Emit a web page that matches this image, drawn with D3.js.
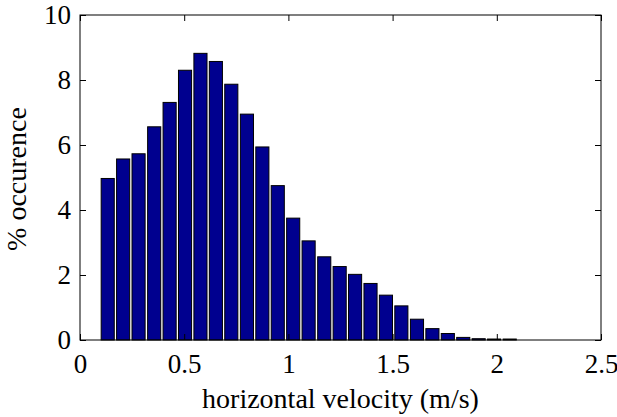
<!DOCTYPE html>
<html>
<head>
<meta charset="utf-8">
<script src="https://cdn.jsdelivr.net/npm/d3@7"></script>
<style>
  body { margin: 0; background: #fff; }
</style>
</head>
<body>
<div id="chart"></div>
<script>
// Histogram bin centres (m/s) and percentage of occurrence
const binCenters = [0.133, 0.207, 0.281, 0.356, 0.430, 0.504, 0.578, 0.652, 0.726, 0.801,
  0.875, 0.949, 1.023, 1.097, 1.172, 1.246, 1.320, 1.394, 1.468, 1.542,
  1.617, 1.691, 1.765, 1.839, 1.913, 1.987, 2.062];
const occurrence = [4.97, 5.57, 5.73, 6.56, 7.31, 8.30, 8.82, 8.57, 7.87, 6.95,
  5.94, 4.75, 3.75, 3.05, 2.56, 2.26, 2.02, 1.74, 1.38, 1.05,
  0.64, 0.35, 0.20, 0.08, 0.04, 0.03, 0.03];
const xTicks = [0, 0.5, 1, 1.5, 2, 2.5];
const yTicks = [0, 2, 4, 6, 8, 10];

const FONT = 'Liberation Serif';

//Chart dimensions
const W = 617, H = 417;
const margin = { top: 15, right: 16, bot: 77, left: 80 };
const width = W - margin.left - margin.right;
const height = H - margin.top - margin.bot;

// Scales
const xScale = d3.scaleLinear().domain([0, 2.5]).range([0, width]);
const yScale = d3.scaleLinear().domain([0, 10]).range([height, 0]);
const barW = (xScale(binCenters[1]) - xScale(binCenters[0])) * 0.85;

const svg = d3.select('#chart').append('svg')
  .attr('width', W)
  .attr('height', H)
  .attr('font-family', FONT);

const g = svg.append('g')
  .attr('transform', `translate(${margin.left}, ${margin.top})`);

// Bars
g.selectAll('rect.bar')
  .data(binCenters)
  .enter().append('rect')
  .attr('class', 'bar')
  .attr('x', d => xScale(d) - barW / 2)
  .attr('width', barW)
  .attr('y', (d, i) => yScale(occurrence[i]))
  .attr('height', (d, i) => height - yScale(occurrence[i]))
  .attr('fill', '#00008F')
  .attr('stroke', '#000')
  .attr('stroke-width', 1);

// Axes (MATLAB style, ticks inward on all sides)
const tickLen = 6;
const xAxis = d3.axisBottom(xScale).tickValues(xTicks).tickSize(-tickLen).tickPadding(14)
  .tickFormat(d3.format('~g'));
const yAxis = d3.axisLeft(yScale).tickValues(yTicks).tickSize(-tickLen).tickPadding(9);
const xAxisTop = d3.axisTop(xScale).tickValues(xTicks).tickSize(-tickLen).tickFormat('');
const yAxisRight = d3.axisRight(yScale).tickValues(yTicks).tickSize(-tickLen).tickFormat('');

const styleAxis = sel => {
  sel.attr('font-family', FONT).attr('font-size', 27);
  sel.select('.domain').remove();
  sel.selectAll('line').attr('stroke', '#000');
  sel.selectAll('text').attr('fill', '#000');
};

g.append('g').attr('transform', `translate(0, ${height})`).call(xAxis).call(styleAxis);
g.append('g').call(yAxis).call(styleAxis);
g.append('g').call(xAxisTop).call(styleAxis);
g.append('g').attr('transform', `translate(${width}, 0)`).call(yAxisRight).call(styleAxis);

// Box
g.append('rect')
  .attr('width', width)
  .attr('height', height)
  .attr('fill', 'none')
  .attr('stroke', '#000')
  .attr('stroke-width', 1);

// Labels
svg.append('text')
  .attr('x', margin.left + width / 2)
  .attr('y', 408)
  .attr('text-anchor', 'middle')
  .attr('font-size', 28)
  .text('horizontal velocity (m/s)');

svg.append('text')
  .attr('transform', `translate(26, 179) rotate(-90)`)
  .attr('text-anchor', 'middle')
  .attr('font-size', 28)
  .text('% occurence');
</script>
</body>
</html>
